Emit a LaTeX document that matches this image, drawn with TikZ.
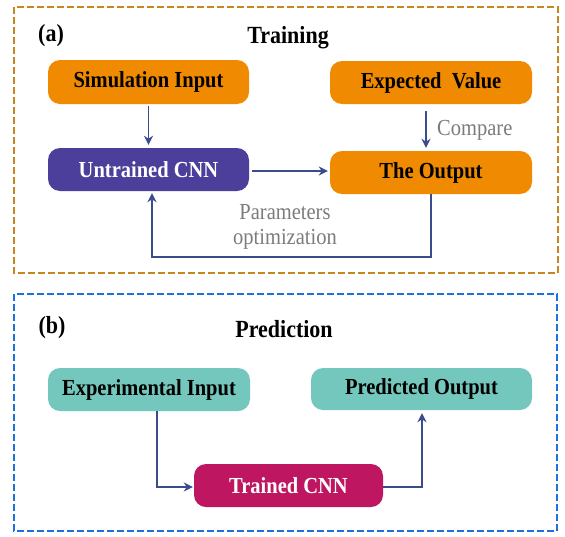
\documentclass[tikz,border=0pt]{standalone}
\usepackage{fontspec}
\usepackage{graphicx}
\setmainfont{Liberation Serif}
\usetikzlibrary{arrows.meta}
\definecolor{frameorange}{HTML}{C8861E}
\definecolor{frameblue}{HTML}{1E6FE0}
\definecolor{boxorange}{HTML}{F08A00}
\definecolor{boxpurple}{HTML}{4B3F9B}
\definecolor{boxteal}{HTML}{74C7BD}
\definecolor{boxmagenta}{HTML}{BE1660}
\definecolor{arrowblue}{HTML}{3B4C8C}
\definecolor{labelgray}{HTML}{7C7C7C}
\newcommand\tallx[1]{\scalebox{1}[1.12]{#1}}
\tikzset{
  x=1pt, y=-1pt,
  flowbox/.style={rounded corners=12pt, inner sep=0pt, align=center,
    font=\fontsize{20.5}{24}\selectfont\bfseries},
  frame/.style={line width=2.6pt, dash pattern=on 7pt off 3pt},
  conn/.style={draw=arrowblue, line width=1.8pt},
  arr/.style={conn, -{Stealth[length=9pt,width=9pt]}},
  graylabel/.style={text=labelgray, font=\fontsize{20.5}{24}\selectfont, inner sep=0pt},
  heading/.style={font=\fontsize{22}{26}\selectfont\bfseries, inner sep=0pt}
}
\begin{document}
\begin{tikzpicture}
\useasboundingbox (0,0) rectangle (565,536);
\fill[white] (0,0) rectangle (565,536);
% frames
\draw[frame, draw=frameorange] (14,7) rectangle (558,273);
\draw[frame, draw=frameblue] (14,294) rectangle (557,531);
% headings
\node[heading] (la) at (51,36) {\tallx{(a)}};
\node[heading] (ta) at (288,38) {\tallx{Training}};
\node[heading] (lb) at (52,328) {\tallx{(b)}};
\node[heading] (tb) at (284,329) {\tallx{Prediction}};
% training nodes
\node[flowbox, fill=boxorange, minimum width=201pt, minimum height=44pt] (sim) at (148.5,82) {\tallx{Simulation Input}};
\node[flowbox, fill=boxpurple, text=white, minimum width=201pt, minimum height=43pt] (unt) at (148.5,169.5) {\tallx{Untrained CNN}};
\node[flowbox, fill=boxorange, minimum width=202pt, minimum height=43pt] (exp) at (431,82.5) {\tallx{Expected\ \ Value}};
\node[flowbox, fill=boxorange, minimum width=202pt, minimum height=43pt] (out) at (431,172.5) {\tallx{The Output}};
% prediction nodes
\node[flowbox, fill=boxteal, minimum width=202pt, minimum height=43pt] (ein) at (149,389.5) {\tallx{Experimental Input}};
\node[flowbox, fill=boxteal, minimum width=221pt, minimum height=42pt] (pout) at (421.5,389) {\tallx{Predicted Output}};
\node[flowbox, fill=boxmagenta, text=white, minimum width=189pt, minimum height=43pt] (tcnn) at (288.5,485.5) {\tallx{Trained CNN}};
% labels
\node[graylabel, anchor=west] (cmp) at (437,130) {\tallx{Compare}};
\node[graylabel] (par) at (285,212) {\tallx{Parameters}};
\node[graylabel] (opt) at (285,239) {\tallx{optimization}};
% training connectors
\coordinate (fb1) at (431,257);
\coordinate (fb2) at (152,257);
\coordinate (cx) at (426,0);
\coordinate (hy) at (0,171);
\draw[arr, shorten <=2pt, shorten >=3pt] (sim.south) -- (unt.north);
\draw[arr, shorten <=7pt, shorten >=3pt] (exp.south -| cx) -- (out.north -| cx);
\draw[arr, shorten <=3pt, shorten >=2pt] (unt.east |- hy) -- (out.west |- hy);
\draw[arr, shorten >=2pt] (out.south) -- (fb1) -- (fb2) -- (unt.south -| fb2);
% prediction connectors
\coordinate (pc1) at (157,487);
\coordinate (pc2) at (422,487);
\draw[arr, shorten >=1pt] (ein.south -| pc1) -- (pc1) -- (tcnn.west |- pc1);
\draw[arr, shorten >=3pt] (tcnn.east |- pc2) -- (pc2) -- (pout.south -| pc2);
\end{tikzpicture}
\end{document}
